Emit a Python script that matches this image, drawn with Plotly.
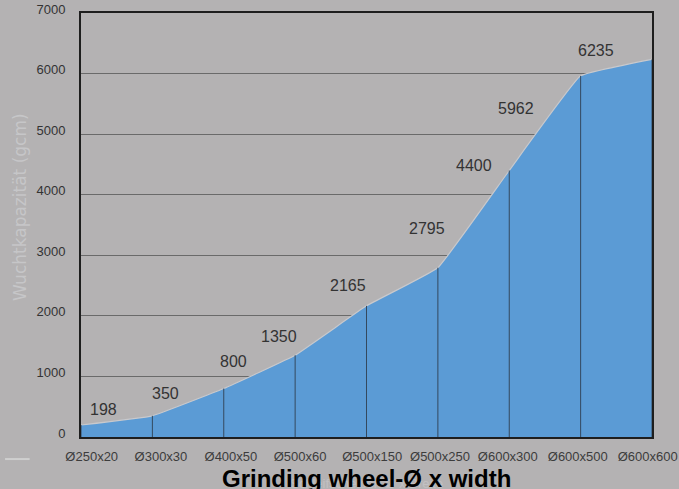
import plotly.graph_objects as go

categories = ["Ø250x20", "Ø300x30", "Ø400x50", "Ø500x60", "Ø500x150",
              "Ø500x250", "Ø600x300", "Ø600x500", "Ø600x600"]
values = [198, 350, 800, 1350, 2165, 2795, 4400, 5962, 6235]
y_ticks = [0, 1000, 2000, 3000, 4000, 5000, 6000, 7000]

# label placement (pixel offsets from each point) - style only
label_dx = [22, 13, 10, -16, -19, -11, -35, -65, -56]
label_dy = [16, 22, 27, 19, 20, 39, 5, -33, 9]
tick_offsets = [0.15, 0.12, 0.1, 0.07, 0.08, 0.03, -0.02, -0.04, -0.06]

xs = list(range(len(categories)))
BG = "#b4b2b3"

fig = go.Figure()

fig.add_trace(go.Scatter(
    x=xs, y=values, mode="lines", fill="tozeroy",
    fillcolor="#5b9bd5", line=dict(color="#c9c9cc", width=1.2, shape="spline", smoothing=0.25),
    hoverinfo="skip", showlegend=False))

vx, vy = [], []
for i, v in zip(xs, values):
    vx += [i, i, None]
    vy += [0, v, None]
fig.add_trace(go.Scatter(x=vx, y=vy, mode="lines",
                         line=dict(color="#34495e", width=1),
                         hoverinfo="skip", showlegend=False))

annotations = []
for i, v, dx, dy in zip(xs, values, label_dx, label_dy):
    annotations.append(dict(x=i, y=v, xref="x", yref="y", text=str(v),
                            showarrow=False, xshift=dx, yshift=dy,
                            font=dict(family="Liberation Sans, Arial", size=16, color="#333333")))

annotations.append(dict(x=0.5, y=-0.11, xref="paper", yref="paper",
                        text="Schleifscheiben-Ø x Breite", showarrow=False,
                        xanchor="center", yanchor="middle",
                        font=dict(family="Liberation Sans, Arial", size=13, color="#c2c0c2")))
annotations.append(dict(x=0.5, y=-0.097, xref="paper", yref="paper",
                        text="<b>Grinding wheel-Ø x width</b>", showarrow=False,
                        xanchor="center", yanchor="middle",
                        font=dict(family="Liberation Sans, Arial", size=24, color="#000000")))
annotations.append(dict(x=-0.107, y=0.542, xref="paper", yref="paper",
                        text="Wuchtkapazität (gcm)", showarrow=False, textangle=-90,
                        xanchor="center", yanchor="middle",
                        font=dict(family="DejaVu Sans", size=17, color="#c6c6c8")))

fig.update_layout(
    width=679, height=489,
    margin=dict(l=81, r=27, t=13, b=52, autoexpand=False),
    paper_bgcolor=BG, plot_bgcolor=BG,
    annotations=annotations,
    shapes=[dict(type="line", xref="paper", yref="paper", x0=-0.133, x1=-0.09,
                 y0=-0.052, y1=-0.052, line=dict(color="#cfcfcf", width=2))],
    xaxis=dict(range=[0, 8], tickvals=[i + o for i, o in zip(xs, tick_offsets)],
               ticktext=categories, showgrid=False, zeroline=False, automargin=False,
               showline=True, linecolor="#1e1e1e", linewidth=2, mirror=True,
               ticks="outside", ticklen=6, tickcolor="rgba(0,0,0,0)",
               tickfont=dict(family="Liberation Sans, Arial", size=13, color="#3c3c3c")),
    yaxis=dict(range=[0, 7000], tickvals=y_ticks, showgrid=True, automargin=False,
               gridcolor="#6a6a6a", gridwidth=1, zeroline=False,
               showline=True, linecolor="#1e1e1e", linewidth=2, mirror=True,
               ticks="outside", ticklen=11, tickcolor="rgba(0,0,0,0)",
               ticklabelshift=-4,
               tickfont=dict(family="Liberation Sans, Arial", size=13, color="#333333")),
)

fig.write_html("out.html", config={"displayModeBar": False},
               post_script="document.body.style.margin='0';document.body.style.overflow='hidden';")
